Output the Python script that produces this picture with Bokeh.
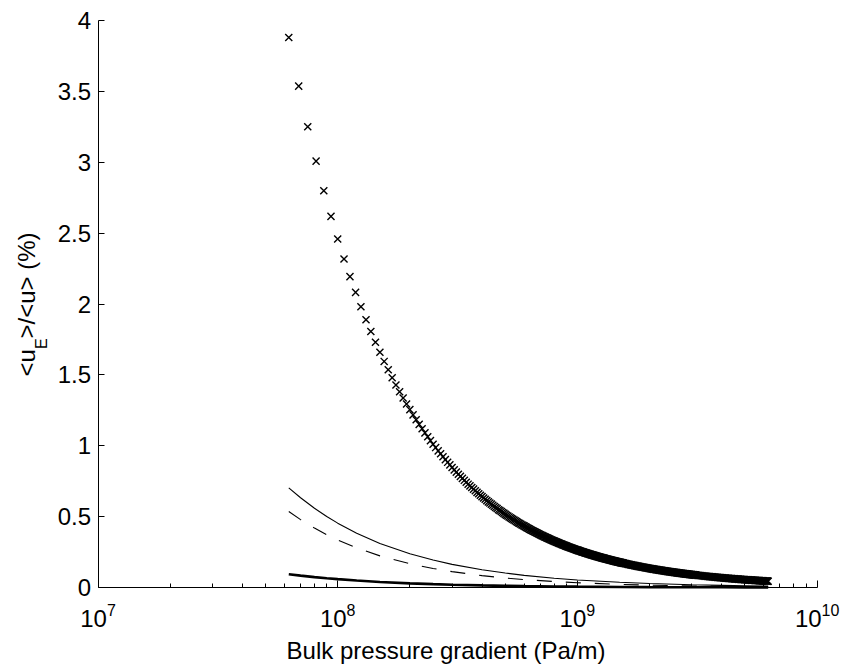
import math
from bokeh.plotting import figure
from bokeh.models import Range1d, FixedTicker, CustomJSTickFormatter, Label
from bokeh.embed import file_html
from bokeh.resources import INLINE

# ---------------- data ----------------
# bulk pressure gradient in MPa/m for the "x" markers
cross_x_mpa = [
    62.5, 68.75, 75, 81.25, 87.5, 93.75, 100, 106.25, 112.5, 118.75,
    125, 131.25, 137.5, 143.75, 150, 156.25, 162.5, 168.75, 175, 181.25,
    187.5, 193.75, 200, 206.25, 212.5, 218.75, 225, 231.25, 237.5, 243.75,
    250, 256.25, 262.5, 268.75, 275, 281.25, 287.5, 293.75, 300, 306.25,
    312.5, 318.75, 325, 331.25, 337.5, 343.75, 350, 356.25, 362.5, 368.75,
    375, 381.25, 387.5, 393.75, 400, 406.25, 412.5, 418.75, 425, 431.25,
    437.5, 443.75, 450, 456.25, 462.5, 468.75, 475, 481.25, 487.5, 493.75,
    500, 506.25, 512.5, 518.75, 525, 531.25, 537.5, 543.75, 550, 556.25,
    562.5, 568.75, 575, 581.25, 587.5, 593.75, 600, 606.25, 612.5, 618.75,
    625,
    631.25, 637.5, 643.75, 650, 656.25, 662.5, 668.75, 675, 681.25, 687.5,
    693.75, 700, 706.25, 712.5, 718.75, 725, 731.25, 737.5, 743.75, 750,
    756.25, 762.5, 768.75, 775, 781.25, 787.5, 793.75, 800, 806.25, 812.5,
    818.75, 825, 831.25, 837.5, 843.75, 850, 856.25, 862.5, 868.75, 875,
    881.25, 887.5, 893.75, 900, 906.25, 912.5, 918.75, 925, 931.25, 937.5,
    943.75, 950, 956.25, 962.5, 968.75, 975, 981.25, 987.5, 993.75, 1000,
    1006.25, 1012.5, 1018.75, 1025, 1031.25, 1037.5, 1043.75, 1050, 1056.25, 1062.5,
    1068.75, 1075, 1081.25, 1087.5, 1093.75, 1100, 1106.25, 1112.5, 1118.75, 1125,
    1131.25, 1137.5, 1143.75, 1150, 1156.25, 1162.5, 1168.75, 1175, 1181.25, 1187.5,
    1193.75, 1200, 1206.25, 1212.5, 1218.75, 1225, 1231.25, 1237.5, 1243.75, 1250,
    1256.25, 1262.5, 1268.75, 1275, 1281.25, 1287.5, 1293.75, 1300, 1306.25, 1312.5,
    1318.75, 1325, 1331.25, 1337.5, 1343.75, 1350, 1356.25, 1362.5, 1368.75, 1375,
    1381.25, 1387.5, 1393.75, 1400, 1406.25, 1412.5, 1418.75, 1425, 1431.25, 1437.5,
    1443.75, 1450, 1456.25, 1462.5, 1468.75, 1475, 1481.25, 1487.5, 1493.75, 1500,
    1506.25, 1512.5, 1518.75, 1525, 1531.25, 1537.5, 1543.75, 1550, 1556.25, 1562.5,
    1575, 1587.5, 1600, 1612.5, 1625, 1637.5, 1650, 1662.5, 1675, 1687.5,
    1700, 1712.5, 1725, 1737.5, 1750, 1762.5, 1775, 1787.5, 1800, 1812.5,
    1825, 1837.5, 1850, 1862.5, 1875, 1887.5, 1900, 1912.5, 1925, 1937.5,
    1950, 1962.5, 1975, 1987.5, 2000, 2012.5, 2025, 2037.5, 2050, 2062.5,
    2075, 2087.5, 2100, 2112.5, 2125, 2137.5, 2150, 2162.5, 2175, 2187.5,
    2200, 2212.5, 2225, 2237.5, 2250, 2262.5, 2275, 2287.5, 2300, 2312.5,
    2325, 2337.5, 2350, 2362.5, 2375, 2387.5, 2400, 2412.5, 2425, 2437.5,
    2450, 2462.5, 2475, 2487.5, 2500, 2512.5, 2525, 2537.5, 2550, 2562.5,
    2575, 2587.5, 2600, 2612.5, 2625, 2637.5, 2650, 2662.5, 2675, 2687.5,
    2700, 2712.5, 2725, 2737.5, 2750, 2762.5, 2775, 2787.5, 2800, 2812.5,
    2825, 2837.5, 2850, 2862.5, 2875, 2887.5, 2900, 2912.5, 2925, 2937.5,
    2950, 2962.5, 2975, 2987.5, 3000, 3012.5, 3025, 3037.5, 3050, 3062.5,
    3075, 3087.5, 3100, 3112.5, 3125,
    3156.25, 3187.5, 3218.75, 3250, 3281.25, 3312.5, 3343.75, 3375, 3406.25, 3437.5,
    3468.75, 3500, 3531.25, 3562.5, 3593.75, 3625, 3656.25, 3687.5, 3718.75, 3750,
    3781.25, 3812.5, 3843.75, 3875, 3906.25, 3937.5, 3968.75, 4000, 4031.25, 4062.5,
    4093.75, 4125, 4156.25, 4187.5, 4218.75, 4250, 4281.25, 4312.5, 4343.75, 4375,
    4406.25, 4437.5, 4468.75, 4500, 4531.25, 4562.5, 4593.75, 4625, 4656.25, 4687.5,
    4718.75, 4750, 4781.25, 4812.5, 4843.75, 4875, 4906.25, 4937.5, 4968.75, 5000,
    5031.25, 5062.5, 5093.75, 5125, 5156.25, 5187.5, 5218.75, 5250, 5281.25, 5312.5,
    5343.75, 5375, 5406.25, 5437.5, 5468.75, 5500, 5531.25, 5562.5, 5593.75, 5625,
    5656.25, 5687.5, 5718.75, 5750, 5781.25, 5812.5, 5843.75, 5875, 5906.25, 5937.5,
    5968.75, 6000, 6031.25, 6062.5, 6093.75, 6125, 6156.25, 6187.5, 6218.75, 6250,
]
# <u_E>/<u> (%) for the "x" markers
cross_y = [
    3.880, 3.537, 3.251, 3.008, 2.799, 2.618, 2.459, 2.318, 2.193, 2.082,
    1.981, 1.889, 1.806, 1.730, 1.660, 1.595, 1.536, 1.480, 1.429, 1.381,
    1.337, 1.295, 1.255, 1.218, 1.184, 1.151, 1.120, 1.091, 1.063, 1.036,
    1.011, 0.987, 0.964, 0.943, 0.922, 0.902, 0.883, 0.865, 0.847, 0.830,
    0.814, 0.799, 0.784, 0.770, 0.756, 0.742, 0.729, 0.717, 0.705, 0.694,
    0.682, 0.671, 0.661, 0.651, 0.641, 0.631, 0.622, 0.613, 0.604, 0.596,
    0.588, 0.580, 0.572, 0.564, 0.557, 0.549, 0.543, 0.536, 0.529, 0.523,
    0.516, 0.510, 0.504, 0.498, 0.492, 0.487, 0.481, 0.476, 0.471, 0.465,
    0.460, 0.455, 0.451, 0.446, 0.441, 0.437, 0.433, 0.428, 0.424, 0.420,
    0.416,
    0.4118, 0.4078, 0.4040, 0.4002, 0.3965, 0.3929, 0.3893, 0.3858, 0.3824, 0.3790,
    0.3757, 0.3724, 0.3692, 0.3661, 0.3630, 0.3599, 0.3570, 0.3540, 0.3511, 0.3483,
    0.3455, 0.3428, 0.3401, 0.3374, 0.3348, 0.3322, 0.3297, 0.3272, 0.3247, 0.3223,
    0.3199, 0.3175, 0.3152, 0.3129, 0.3107, 0.3085, 0.3063, 0.3041, 0.3020, 0.2999,
    0.2979, 0.2958, 0.2938, 0.2918, 0.2899, 0.2880, 0.2861, 0.2842, 0.2824, 0.2805,
    0.2787, 0.2769, 0.2752, 0.2734, 0.2717, 0.2700, 0.2684, 0.2667, 0.2651, 0.2635,
    0.2619, 0.2603, 0.2588, 0.2572, 0.2557, 0.2542, 0.2527, 0.2513, 0.2498, 0.2484,
    0.2470, 0.2456, 0.2442, 0.2429, 0.2415, 0.2402, 0.2389, 0.2376, 0.2363, 0.2350,
    0.2338, 0.2325, 0.2313, 0.2301, 0.2289, 0.2277, 0.2265, 0.2253, 0.2242, 0.2230,
    0.2219, 0.2208, 0.2197, 0.2186, 0.2175, 0.2164, 0.2154, 0.2143, 0.2133, 0.2123,
    0.2112, 0.2102, 0.2092, 0.2082, 0.2072, 0.2062, 0.2053, 0.2043, 0.2033, 0.2024,
    0.2015, 0.2006, 0.1996, 0.1987, 0.1978, 0.1969, 0.1961, 0.1952, 0.1943, 0.1935,
    0.1926, 0.1918, 0.1909, 0.1901, 0.1893, 0.1885, 0.1877, 0.1869, 0.1861, 0.1853,
    0.1845, 0.1838, 0.1830, 0.1822, 0.1815, 0.1807, 0.1800, 0.1793, 0.1785, 0.1778,
    0.1771, 0.1764, 0.1757, 0.1750, 0.1743, 0.1736, 0.1729, 0.1723, 0.1716, 0.1709,
    0.1696, 0.1683, 0.1670, 0.1658, 0.1645, 0.1633, 0.1621, 0.1609, 0.1598, 0.1586,
    0.1575, 0.1564, 0.1553, 0.1542, 0.1531, 0.1521, 0.1510, 0.1500, 0.1490, 0.1480,
    0.1470, 0.1461, 0.1451, 0.1442, 0.1432, 0.1423, 0.1414, 0.1405, 0.1396, 0.1387,
    0.1379, 0.1370, 0.1362, 0.1353, 0.1345, 0.1337, 0.1329, 0.1321, 0.1313, 0.1305,
    0.1298, 0.1290, 0.1283, 0.1275, 0.1268, 0.1261, 0.1254, 0.1247, 0.1240, 0.1233,
    0.1226, 0.1220, 0.1213, 0.1206, 0.1200, 0.1193, 0.1187, 0.1181, 0.1175, 0.1168,
    0.1162, 0.1156, 0.1150, 0.1144, 0.1139, 0.1133, 0.1127, 0.1121, 0.1116, 0.1110,
    0.1105, 0.1099, 0.1094, 0.1089, 0.1084, 0.1078, 0.1073, 0.1068, 0.1063, 0.1058,
    0.1053, 0.1048, 0.1043, 0.1038, 0.1033, 0.1029, 0.1024, 0.1019, 0.1015, 0.1010,
    0.1005, 0.1001, 0.0996, 0.0992, 0.0988, 0.0983, 0.0979, 0.0975, 0.0971, 0.0966,
    0.0962, 0.0958, 0.0954, 0.0950, 0.0946, 0.0942, 0.0938, 0.0934, 0.0930, 0.0926,
    0.0923, 0.0919, 0.0915, 0.0911, 0.0908, 0.0904, 0.0901, 0.0897, 0.0893, 0.0890,
    0.0886, 0.0883, 0.0879, 0.0876, 0.0873,
    0.0864, 0.0856, 0.0848, 0.0840, 0.0832, 0.0825, 0.0817, 0.0810, 0.0803, 0.0795,
    0.0789, 0.0782, 0.0775, 0.0768, 0.0762, 0.0756, 0.0749, 0.0743, 0.0737, 0.0731,
    0.0725, 0.0720, 0.0714, 0.0708, 0.0703, 0.0697, 0.0692, 0.0687, 0.0682, 0.0676,
    0.0671, 0.0667, 0.0662, 0.0657, 0.0652, 0.0647, 0.0643, 0.0638, 0.0634, 0.0630,
    0.0625, 0.0621, 0.0617, 0.0613, 0.0608, 0.0604, 0.0600, 0.0597, 0.0593, 0.0589,
    0.0585, 0.0581, 0.0578, 0.0574, 0.0570, 0.0567, 0.0563, 0.0560, 0.0556, 0.0553,
    0.0550, 0.0547, 0.0543, 0.0540, 0.0537, 0.0534, 0.0531, 0.0528, 0.0525, 0.0522,
    0.0519, 0.0516, 0.0513, 0.0510, 0.0507, 0.0504, 0.0502, 0.0499, 0.0496, 0.0493,
    0.0491, 0.0488, 0.0486, 0.0483, 0.0480, 0.0478, 0.0475, 0.0473, 0.0471, 0.0468,
    0.0466, 0.0463, 0.0461, 0.0459, 0.0457, 0.0454, 0.0452, 0.0450, 0.0448, 0.0446,
]

# curves (MPa/m)
line_x_mpa = [62.5, 70, 80, 90, 100, 120, 150, 200, 250, 300, 400, 500, 600,
              800, 1000, 1500, 2000, 3000, 4000, 5000, 6250]
thin_y = [0.703, 0.633, 0.559, 0.501, 0.454, 0.383, 0.311, 0.238, 0.194, 0.163,
          0.125, 0.102, 0.0858, 0.0657, 0.0534, 0.0366, 0.0280, 0.0192, 0.0147,
          0.0119, 0.0097]
dashed_y = [0.536, 0.479, 0.419, 0.372, 0.335, 0.279, 0.223, 0.168, 0.134, 0.112,
            0.084, 0.067, 0.056, 0.042, 0.0335, 0.0223, 0.0168, 0.0112, 0.0084,
            0.0067, 0.0054]
thick_y = [0.094, 0.084, 0.073, 0.065, 0.059, 0.049, 0.039, 0.029, 0.0235, 0.0196,
           0.0147, 0.0118, 0.0098, 0.0073, 0.0059, 0.0039, 0.0029, 0.0020, 0.0015,
           0.0012, 0.0009]

y_ticks = [0, 0.5, 1, 1.5, 2, 2.5, 3, 3.5, 4]
x_tick_exponents = [7, 8, 9, 10]

x_label = "Bulk pressure gradient (Pa/m)"

assert len(cross_x_mpa) == len(cross_y)

cross_x = [v * 1e6 for v in cross_x_mpa]
line_x = [v * 1e6 for v in line_x_mpa]

FONT = "Liberation Sans"

# ---------------- layout: the frame fills the canvas, axes sit at fixed spots
W, H = 843, 667
AX_X0_PX, DECADE_PX = 97.5, 239.7      # pixel of 1e7, pixels per decade
AX_Y0_PX, UNIT_PX = 587.0, 141.75      # pixel of y=0, pixels per unit

x_start = 10 ** (7 - AX_X0_PX / DECADE_PX)
x_end = 10 ** (7 + (W - AX_X0_PX) / DECADE_PX)
y_start = -(H - AX_Y0_PX) / UNIT_PX
y_end = AX_Y0_PX / UNIT_PX


def ypix(py):
    """data y for a canvas pixel row (layout helper for text placement)"""
    return (AX_Y0_PX - py) / UNIT_PX


def xpix(px):
    """data x for a canvas pixel column (layout helper for text placement)"""
    return 10 ** (7 + (px - AX_X0_PX) / DECADE_PX)


p = figure(width=W, height=H, x_axis_type="log", title=None,
           x_range=Range1d(x_start, x_end), y_range=Range1d(y_start, y_end),
           output_backend="svg", toolbar_location=None,
           min_border_left=0, min_border_right=0,
           min_border_top=0, min_border_bottom=0)
p.grid.visible = False
p.outline_line_color = None
p.background_fill_color = "white"
p.border_fill_color = "white"

# y axis
p.yaxis.fixed_location = 10.0 ** x_tick_exponents[0]
p.yaxis.bounds = (y_ticks[0], y_ticks[-1])
p.yaxis.ticker = FixedTicker(ticks=y_ticks)
p.yaxis.formatter = CustomJSTickFormatter(code="return tick.toString();")
p.yaxis.major_label_text_font = FONT
p.yaxis.major_label_text_font_size = "24px"
p.yaxis.major_label_text_color = "black"
p.yaxis.major_label_standoff = 7
p.yaxis.major_tick_in = 6
p.yaxis.major_tick_out = 0
p.yaxis.minor_tick_line_color = None
p.yaxis.axis_line_color = "black"
p.yaxis.major_tick_line_color = "black"

# x axis
major = [10.0 ** e for e in x_tick_exponents]
minor = [m * 10.0 ** e for e in x_tick_exponents[:-1] for m in range(2, 10)]
p.xaxis.fixed_location = 0
p.xaxis.bounds = (major[0], major[-1])
p.xaxis.ticker = FixedTicker(ticks=major, minor_ticks=minor)
p.xaxis.formatter = CustomJSTickFormatter(code="return '';")
p.xaxis.major_label_standoff = 0
p.xaxis.major_tick_in = 7
p.xaxis.major_tick_out = 0
p.xaxis.minor_tick_in = 4
p.xaxis.minor_tick_out = 0
p.xaxis.axis_line_color = "black"
p.xaxis.major_tick_line_color = "black"
p.xaxis.minor_tick_line_color = "black"

# data
p.scatter(cross_x, cross_y, marker="x", size=10, line_color="black", line_width=1.4)
p.line(line_x, thin_y, line_color="black", line_width=1.1)
p.line(line_x, dashed_y, line_color="black", line_width=1.1, line_dash="15 14")
p.line(line_x, thick_y, line_color="black", line_width=2.6)

# x tick labels 10^n  (text centred vertically on the digits)
for e in x_tick_exponents:
    off = 4.5 if e >= 10 else 8.9
    p.add_layout(Label(x=10.0 ** e, y=ypix(618.4), text="10", text_font=FONT,
                       text_font_size="24px", text_align="right",
                       text_baseline="middle", x_offset=off,
                       text_color="black"))
    p.add_layout(Label(x=10.0 ** e, y=ypix(609.3), text=str(e), text_font=FONT,
                       text_font_size="16px", text_align="left",
                       text_baseline="middle", x_offset=off,
                       text_color="black"))

# x axis label
p.add_layout(Label(x=xpix(445.5), y=ypix(650.0), text=x_label, text_font=FONT,
                   text_font_size="24px", text_align="center",
                   text_baseline="middle", text_color="black"))

# y axis label <u_E>/<u> (%)
p.add_layout(Label(x=xpix(26.4), y=ypix(376.0), text="<u", text_font=FONT,
                   text_font_size="24px", text_align="left",
                   text_baseline="middle", angle=math.pi / 2,
                   text_color="black"))
p.add_layout(Label(x=xpix(41.0), y=ypix(348.6), text="E", text_font=FONT,
                   text_font_size="16px", text_align="left",
                   text_baseline="middle", angle=math.pi / 2,
                   text_color="black"))
p.add_layout(Label(x=xpix(26.4), y=ypix(338.0), text=">/<u> (%)", text_font=FONT,
                   text_font_size="24px", text_align="left",
                   text_baseline="middle", angle=math.pi / 2,
                   text_color="black"))

open("out.html", "w").write(file_html(p, INLINE))
